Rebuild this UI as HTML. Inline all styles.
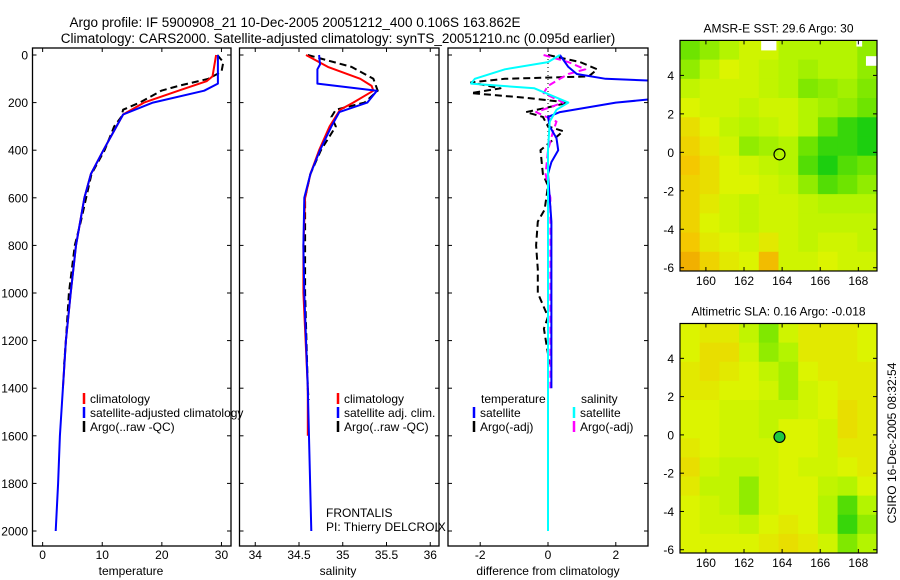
<!DOCTYPE html>
<html><head><meta charset="utf-8"><style>
html,body{margin:0;padding:0;background:#fff;}
svg{display:block;font-family:"Liberation Sans",sans-serif;}
</style></head><body>
<svg id="c" width="900" height="580" viewBox="0 0 900 580" xmlns="http://www.w3.org/2000/svg">
<text x="295" y="27" font-size="13.5" text-anchor="middle">Argo profile: IF 5900908_21 10-Dec-2005 20051212_400 0.106S 163.862E</text>
<text x="338" y="43" font-size="13.5" text-anchor="middle">Climatology: CARS2000. Satellite-adjusted climatology: synTS_20051210.nc (0.095d earlier)</text>
</svg>
<script>
// ---- data ----
const depthTicks=[0,200,400,600,800,1000,1200,1400,1600,1800,2000];
const tempTicks=[0,10,20,30];
const salTicks=[34,34.5,35,35.5,36];
const salTickLabels=["34","34.5","35","35.5","36"];
const diffTicks=[-2,0,2];
const tClimDepth=[0,90,110,150,200,250,300,400,500,600,800,1000,1200,1400];
const tClim=[29.1,28.5,27.5,22.8,17,13.5,12.4,10.2,8.1,7,5.6,4.7,3.9,3.4];
const tSatDepth=[0,120,150,200,250,300,400,500,600,800,1000,1200,1400,1600,1800,2000];
const tSat=[29.4,29.4,27.1,18.5,13.5,12.4,10.2,8.1,7,5.6,4.7,3.9,3.4,2.9,2.6,2.2];
const tArgoDepth=[0,30,70,100,130,150,200,230,260,300,400,500,700,800,1000,1200,1300];
const tArgo=[29.3,30.3,30,27.8,22.8,19.9,16.3,13.5,13.2,12,10.4,8.2,6.4,5.4,4.4,3.9,3.6];
const sClimDepth=[0,50,100,130,150,200,230,300,400,500,600,800,1000,1400,1600];
const sClim=[34.58,34.83,35.2,35.33,35.35,35.12,34.97,34.85,34.73,34.63,34.57,34.55,34.55,34.6,34.6];
const sSatDepth=[0,40,60,120,150,200,240,300,400,500,600,800,1000,1400,2000];
const sSat=[34.73,34.74,34.71,34.71,35.39,35.28,34.96,34.87,34.74,34.63,34.56,34.55,34.56,34.6,34.64];
const sArgoDepth=[0,50,80,100,150,200,230,260,300,400,500,600,1000,1400,1450];
const sArgo=[34.6,35.1,35.25,35.35,35.4,35.25,34.92,34.87,34.92,34.75,34.63,34.57,34.57,34.6,34.61];
const dTSatDepth=[0,50,80,100,110,140,180,200,240,260,300,350,400,450,500,700,1000,1400];
const dTSat=[0.35,0.6,0.85,1.7,3.5,4.5,3.5,2,0.35,0,0.05,0.25,0.3,0.1,0,0.1,0.1,0.1];
const dTArgoDepth=[0,30,60,90,100,115,140,160,180,200,220,240,260,300,320,400,500,550,650,700,800,900,1000,1100,1150,1300];
const dTArgo=[0,0.95,1.45,1.2,-1.27,-2.27,-1.4,-2.27,-0.65,0.6,0,-0.65,-0.15,0,0.45,-0.22,-0.15,0,-0.1,-0.3,-0.35,-0.3,-0.3,0,-0.12,0.05];
const dSSatDepth=[0,30,60,100,120,140,200,230,280,400,2000];
const dSSat=[0.35,0,-1.27,-2.16,-2.27,-0.4,0.6,0.25,0.05,0,0];
const dSArgoDepth=[0,30,60,80,100,130,160,200,240,280,320,400,500,600,1400];
const dSArgo=[-0.13,0.6,1.1,0.6,0.35,0,-0.13,0.45,-0.35,0.25,0.15,0,-0.07,0.07,0.07];
const sstGrid=[
[0.8,0.7,0.6,0.5,0.5,0.6,0.6,0.6,0.6,0.7],
[0.7,0.55,0.45,0.5,0.55,0.6,0.65,0.6,0.6,0.7],
[0.55,0.5,0.5,0.5,0.55,0.6,0.75,0.7,0.65,0.75],
[0.45,0.5,0.5,0.55,0.5,0.5,0.6,0.65,0.7,0.8],
[0.35,0.45,0.55,0.6,0.55,0.5,0.6,0.8,0.9,0.95],
[0.3,0.4,0.5,0.7,0.65,0.6,0.8,0.9,0.9,0.95],
[0.25,0.35,0.45,0.5,0.55,0.6,0.85,0.95,0.85,0.8],
[0.3,0.35,0.45,0.45,0.5,0.55,0.7,0.85,0.8,0.7],
[0.3,0.4,0.5,0.55,0.5,0.5,0.55,0.6,0.6,0.6],
[0.3,0.45,0.5,0.55,0.5,0.5,0.55,0.55,0.55,0.55],
[0.25,0.4,0.45,0.5,0.4,0.5,0.55,0.5,0.5,0.55],
[0.15,0.3,0.4,0.45,0.2,0.5,0.5,0.45,0.5,0.5]];
const slaGrid=[
[0.45,0.4,0.4,0.55,0.75,0.5,0.4,0.4,0.4,0.45],
[0.45,0.35,0.35,0.5,0.7,0.6,0.4,0.4,0.4,0.45],
[0.4,0.35,0.4,0.45,0.55,0.65,0.45,0.4,0.4,0.4],
[0.4,0.4,0.45,0.45,0.5,0.65,0.5,0.45,0.4,0.4],
[0.45,0.45,0.5,0.5,0.55,0.55,0.5,0.45,0.35,0.4],
[0.45,0.45,0.5,0.5,0.55,0.45,0.45,0.5,0.35,0.4],
[0.4,0.45,0.5,0.5,0.5,0.45,0.45,0.5,0.4,0.4],
[0.35,0.5,0.55,0.55,0.5,0.45,0.5,0.5,0.45,0.4],
[0.4,0.55,0.55,0.7,0.5,0.45,0.45,0.55,0.6,0.45],
[0.45,0.5,0.55,0.7,0.5,0.45,0.45,0.6,0.85,0.6],
[0.45,0.5,0.5,0.55,0.45,0.4,0.45,0.6,0.9,0.7],
[0.45,0.45,0.45,0.45,0.4,0.35,0.4,0.5,0.75,0.6]];
const lonTicks=[160,162,164,166,168];
const latTicks=[4,2,0,-2,-4,-6];
const argoLon=163.862, argoLat=-0.106;

// ---- drawing ----
const NS="http://www.w3.org/2000/svg";
const svg=document.getElementById('c');
function el(tag,attrs,parent){const e=document.createElementNS(NS,tag);for(const k in attrs)e.setAttribute(k,attrs[k]);(parent||svg).appendChild(e);return e;}
const Y0=48,Y1=546;
const yD=d=>55+d*(531-55)/2000;
const panels=[
 {x0:32.5,x1:231,v0:-1.7,v1:31.6,name:'temperature-panel',title:'temperature',ticks:tempTicks,labels:tempTicks.map(String),tx:131},
 {x0:239.5,x1:439,v0:33.82,v1:36.1,name:'salinity-panel',title:'salinity',ticks:salTicks,labels:salTickLabels,tx:338},
 {x0:448,x1:648,v0:-2.95,v1:2.95,name:'difference-panel',title:'difference from climatology',ticks:diffTicks,labels:diffTicks.map(String),tx:548}];
panels.forEach((p,i)=>{
 p.sx=v=>p.x0+(v-p.v0)*(p.x1-p.x0)/(p.v1-p.v0);
 const g=el('g',{});
 
 
 const cp=el('clipPath',{id:'cp'+i},g);el('rect',{x:p.x0,y:Y0,width:p.x1-p.x0,height:Y1-Y0},cp);
 p.g=el('g',{'clip-path':'url(#cp'+i+')'},g);
 const r=el('rect',{x:p.x0,y:Y0,width:p.x1-p.x0,height:Y1-Y0,fill:'none',stroke:'#000','stroke-width':1.3},g);
 
 
 depthTicks.forEach(d=>{
  const y=yD(d);
  el('line',{x1:p.x0,x2:p.x0+4,y1:y,y2:y,stroke:'#000'},g);
  el('line',{x1:p.x1,x2:p.x1-4,y1:y,y2:y,stroke:'#000'},g);
  if(i===0){const t=el('text',{x:28,y:y+4.5,'font-size':12,'text-anchor':'end'},g);t.textContent=d;
   
   }
 });
 p.ticks.forEach((v,k)=>{
  const x=p.sx(v);
  el('line',{x1:x,x2:x,y1:Y1,y2:Y1-4,stroke:'#000'},g);
  el('line',{x1:x,x2:x,y1:Y0,y2:Y0+4,stroke:'#000'},g);
  const t=el('text',{x:x,y:559,'font-size':12,'text-anchor':'middle'},g);t.textContent=p.labels[k];
  
  
 });
 const tt=el('text',{x:p.tx,y:575,'font-size':12,'text-anchor':'middle'},g);tt.textContent=p.title;
 
 
});
function series(p,depths,vals,color,dashed,name,w){
 const pts=depths.map((d,k)=>p.sx(vals[k]).toFixed(1)+','+yD(d).toFixed(1)).join(' ');
 const l=el('polyline',{points:pts,fill:'none',stroke:color,'stroke-width':w||2,'stroke-dasharray':dashed?'7,4':'none','stroke-linejoin':'round'},p.g);
 
 
}
const [P1,P2,P3]=panels;
series(P1,tArgoDepth,tArgo,'#000',true,'temp-argo-line');
series(P1,tClimDepth,tClim,'#f00',false,'temp-climatology-line');
series(P1,tSatDepth,tSat,'#00f',false,'temp-satellite-line');
series(P2,sArgoDepth,sArgo,'#000',true,'sal-argo-line');
series(P2,sClimDepth,sClim,'#f00',false,'sal-climatology-line');
series(P2,sSatDepth,sSat,'#00f',false,'sal-satellite-line');
const zl=el('line',{x1:P3.sx(0),x2:P3.sx(0),y1:yD(0),y2:yD(2000),stroke:'#000','stroke-dasharray':'1,3','stroke-width':1},P3.g);


series(P3,dTArgoDepth,dTArgo,'#000',true,'temp-argo-diff-line');
series(P3,dSArgoDepth,dSArgo,'#f0f',true,'sal-argo-diff-line');
series(P3,dTSatDepth,dTSat,'#00f',false,'temp-satellite-diff-line');
series(P3,dSSatDepth,dSSat,'#0ff',false,'sal-satellite-diff-line');
// legends
function legend(x,y,color,label,name){
 const g=el('g',{});
 
 
 if(color)el('line',{x1:x,x2:x,y1:y-10,y2:y+1,stroke:color,'stroke-width':2.5},g);
 const t=el('text',{x:x+6,y:y,'font-size':12},g);t.textContent=label;
}
legend(84,403,'#f00','climatology','legend-climatology');
legend(84,417,'#00f','satellite-adjusted climatology','legend-satellite');
legend(84,431,'#000','Argo(..raw -QC)','legend-argo');
legend(338,403,'#f00','climatology','legend-climatology-2');
legend(338,417,'#00f','satellite adj. clim.','legend-satellite-2');
legend(338,431,'#000','Argo(..raw -QC)','legend-argo-2');
legend(475,403,null,'temperature','legend-temperature-heading');
legend(575,403,null,'salinity','legend-salinity-heading');
legend(474,417,'#00f','satellite','legend-temp-satellite');
legend(474,431,'#000','Argo(-adj)','legend-temp-argo');
legend(574,417,'#0ff','satellite','legend-sal-satellite');
legend(574,431,'#f0f','Argo(-adj)','legend-sal-argo');
[['FRONTALIS',517],['PI: Thierry DELCROIX',531]].forEach(([s,y])=>{const t=el('text',{x:326,y:y,'font-size':12});t.textContent=s;
 
 });
// maps
const stops=[[0,[236,140,0]],[0.25,[244,200,0]],[0.45,[220,244,0]],[0.6,[180,244,0]],[0.8,[110,228,0]],[1,[0,200,20]]];
function cmap(v){for(let k=1;k<stops.length;k++){if(v<=stops[k][0]){const a=stops[k-1],b=stops[k],t=(v-a[0])/(b[0]-a[0]);return 'rgb('+a[1].map((c,j)=>Math.round(c+(b[1][j]-c)*t)).join(',')+')';}}return 'rgb(0,200,20)';}
function map(y0,y1,grid,title,name,filled,blanks){
 const x0=680,x1=877,lo0=158.64,lo1=168.98,la0=5.82,la1=-6.17;
 const sx=l=>x0+(l-lo0)*(x1-x0)/(lo1-lo0), sy=l=>y0+(l-la0)*(y1-y0)/(la1-la0);
 const g=el('g',{});
 
 
 const rows=grid.length,cols=grid[0].length,cw=(x1-x0)/cols,rh=(y1-y0)/rows;
 grid.forEach((row,r)=>row.forEach((v,c)=>{
  const cell=el('rect',{x:x0+c*cw,y:y0+r*rh,width:cw+0.5,height:rh+0.5,fill:cmap(v)},g);
  
  
 }));
 (blanks||[]).forEach(b=>el('rect',{x:sx(b[0]),y:sy(b[1]),width:sx(b[2])-sx(b[0]),height:sy(b[3])-sy(b[1]),fill:'#fff'},g));
 el('rect',{x:x0,y:y0,width:x1-x0,height:y1-y0,fill:'none',stroke:'#000','stroke-width':1.2},g);
 lonTicks.forEach(l=>{const x=sx(l);el('line',{x1:x,x2:x,y1:y1,y2:y1-4,stroke:'#000'},g);el('line',{x1:x,x2:x,y1:y0,y2:y0+4,stroke:'#000'},g);
  const t=el('text',{x:x,y:y1+14,'font-size':12,'text-anchor':'middle'},g);t.textContent=l;
  
  });
 latTicks.forEach(l=>{const y=sy(l);el('line',{x1:x0,x2:x0+4,y1:y,y2:y,stroke:'#000'},g);el('line',{x1:x1,x2:x1-4,y1:y,y2:y,stroke:'#000'},g);
  const t=el('text',{x:674,y:y+4.5,'font-size':12,'text-anchor':'end'},g);t.textContent=l;
  
  });
 const t=el('text',{x:(x0+x1)/2,y:y0-8,'font-size':12,'text-anchor':'middle'},g);t.textContent=title;
 
 
 const m=el('circle',{cx:sx(argoLon),cy:sy(argoLat),r:5.5,fill:filled?'#20c840':'none',stroke:'#000','stroke-width':1.2},g);
 
 
}
map(40.4,271,sstGrid,'AMSR-E SST: 29.6 Argo: 30','sst-map',false,[[162.9,5.82,163.7,5.3],[167.9,5.82,168.2,5.5],[168.4,5.0,168.98,4.5]]);
map(323.5,553,slaGrid,'Altimetric SLA: 0.16 Argo: -0.018','sla-map',true,[]);
const ts=el('text',{x:0,y:0,'font-size':12,'text-anchor':'middle',transform:'translate(896,443) rotate(-90)'});
ts.textContent='CSIRO 16-Dec-2005 08:32:54';


</script>
</body></html>
